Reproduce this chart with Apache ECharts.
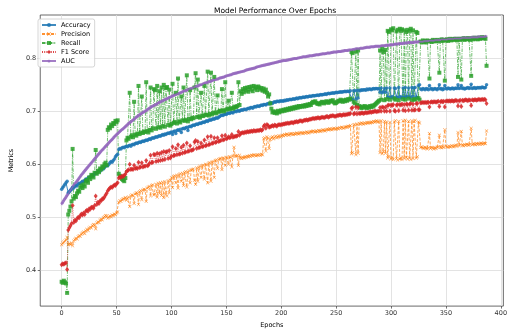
<!DOCTYPE html>
<html>
<head>
<meta charset="utf-8">
<script src="https://cdn.jsdelivr.net/npm/echarts@6/dist/echarts.min.js"></script>
<style>
  html, body { margin: 0; padding: 0; background: #fff; }
  #chart { width: 510px; height: 334px; }
</style>
</head>
<body>
<div id="chart"></div>
<script>
// Per-epoch validation metrics, epoch 0 .. 387 (one row = 20 epochs)
const accuracy = [
  .553,.556,.559,.562,.565,.568,.546,.548,.551,.553,.556,.555,.558,.560,.559,.562,.564,.563,.566,.568,
  .567,.570,.572,.571,.574,.576,.575,.578,.580,.579,.582,.584,.583,.586,.588,.587,.590,.592,.591,.594,
  .596,.598,.597,.600,.603,.605,.604,.607,.610,.614,.617,.619,.628,.630,.629,.631,.632,.631,.633,.634,
  .633,.635,.636,.634,.637,.638,.637,.639,.640,.639,.641,.642,.641,.643,.644,.643,.645,.646,.645,.647,
  .648,.647,.649,.650,.649,.651,.652,.651,.653,.654,.653,.655,.656,.655,.657,.656,.658,.659,.658,.660,
  .661,.656,.662,.663,.658,.664,.665,.664,.666,.660,.667,.668,.667,.669,.670,.664,.671,.672,.671,.673,
  .674,.673,.675,.676,.675,.677,.678,.677,.679,.680,.679,.681,.682,.681,.683,.684,.683,.685,.686,.685,
  .687,.688,.687,.689,.690,.692,.693,.692,.694,.695,.694,.696,.697,.696,.698,.698,.697,.699,.700,.699,
  .701,.701,.700,.702,.703,.702,.704,.704,.703,.705,.706,.705,.707,.707,.706,.708,.709,.708,.710,.710,
  .709,.711,.712,.711,.713,.713,.712,.714,.715,.714,.716,.716,.715,.717,.718,.717,.719,.719,.718,.720,
  .719,.720,.719,.721,.720,.722,.721,.722,.723,.722,.723,.724,.723,.724,.725,.724,.725,.726,.725,.726,
  .727,.726,.727,.728,.727,.728,.729,.728,.729,.730,.729,.730,.730,.731,.730,.731,.732,.731,.732,.732,
  .733,.732,.733,.734,.733,.734,.734,.735,.734,.735,.736,.735,.736,.736,.737,.736,.737,.737,.738,.737,
  .738,.738,.737,.739,.724,.722,.739,.739,.723,.740,.725,.740,.739,.741,.740,.741,.741,.740,.742,.741,
  .742,.742,.741,.742,.743,.742,.743,.743,.742,.743,.736,.744,.735,.737,.743,.736,.744,.727,.726,.744,
  .726,.728,.725,.744,.743,.727,.726,.745,.728,.725,.727,.744,.726,.745,.727,.728,.744,.726,.727,.745,
  .728,.744,.745,.727,.726,.749,.750,.742,.741,.743,.742,.741,.743,.742,.741,.749,.742,.743,.741,.742,
  .743,.742,.741,.743,.750,.742,.743,.741,.742,.749,.743,.742,.744,.743,.742,.743,.744,.742,.743,.744,
  .743,.750,.743,.744,.749,.743,.744,.742,.743,.744,.745,.743,.744,.751,.743,.744,.745,.743,.744,.745,
  .744,.745,.744,.746,.745,.744,.745,.750
];

const precision = [
  .448,.451,.453,.455,.457,.462,.448,.450,.449,.451,.446,.455,.458,.460,.459,.463,.465,.464,.468,.470,
  .472,.469,.474,.477,.475,.479,.481,.480,.484,.486,.485,.478,.489,.491,.490,.494,.496,.495,.499,.501,
  .503,.502,.498,.500,.502,.501,.504,.503,.506,.505,.508,.510,.528,.531,.530,.533,.535,.534,.537,.532,
  .536,.538,.520,.540,.542,.541,.526,.544,.546,.545,.524,.548,.550,.533,.551,.553,.552,.530,.555,.557,
  .558,.540,.560,.561,.542,.544,.562,.538,.564,.545,.565,.541,.566,.537,.567,.543,.540,.569,.546,.570,
  .575,.556,.577,.578,.565,.579,.555,.580,.582,.568,.583,.560,.584,.586,.557,.585,.588,.565,.589,.590,
  .591,.570,.562,.593,.568,.594,.596,.575,.597,.598,.572,.600,.599,.565,.602,.603,.568,.604,.605,.575,
  .607,.608,.592,.609,.610,.611,.590,.612,.611,.598,.613,.612,.600,.614,.613,.595,.615,.632,.616,.615,
  .616,.598,.617,.612,.611,.613,.612,.614,.613,.615,.614,.616,.615,.617,.616,.618,.617,.616,.618,.617,
  .618,.617,.619,.618,.648,.650,.625,.652,.649,.630,.647,.650,.652,.648,.651,.653,.650,.652,.654,.651,
  .653,.655,.654,.656,.655,.657,.656,.655,.657,.658,.657,.656,.658,.657,.659,.658,.657,.659,.660,.659,
  .658,.660,.659,.661,.660,.659,.661,.662,.661,.663,.662,.661,.663,.662,.664,.663,.662,.664,.665,.664,
  .663,.665,.666,.665,.667,.666,.665,.667,.668,.667,.666,.668,.667,.669,.668,.670,.669,.668,.670,.671,
  .670,.672,.671,.673,.620,.622,.674,.675,.618,.676,.621,.677,.676,.678,.677,.676,.678,.677,.679,.678,
  .679,.678,.680,.679,.681,.680,.681,.682,.680,.681,.622,.682,.620,.624,.681,.621,.680,.612,.615,.679,
  .610,.613,.609,.680,.682,.611,.608,.681,.610,.612,.609,.682,.611,.683,.613,.610,.681,.612,.609,.682,
  .611,.681,.683,.612,.614,.680,.678,.632,.633,.631,.630,.632,.631,.629,.631,.658,.630,.632,.631,.629,
  .631,.630,.632,.633,.655,.632,.631,.633,.632,.665,.634,.633,.632,.634,.633,.635,.634,.633,.635,.636,
  .634,.660,.635,.637,.662,.636,.635,.637,.636,.638,.637,.636,.638,.668,.637,.639,.638,.637,.639,.638,
  .639,.638,.640,.638,.639,.640,.639,.663
];

const recall = [
  .378,.376,.380,.377,.375,.357,.505,.512,.520,.530,.629,.535,.540,.538,.545,.550,.548,.556,.560,.555,
  .562,.558,.568,.570,.565,.575,.572,.580,.578,.575,.584,.627,.582,.588,.585,.592,.590,.596,.594,.600,
  .603,.598,.665,.670,.668,.675,.672,.678,.676,.682,.680,.683,.582,.578,.575,.572,.570,.568,.574,.645,
  .650,.648,.735,.652,.655,.651,.718,.656,.654,.658,.748,.657,.660,.728,.659,.662,.661,.755,.663,.660,
  .665,.745,.664,.668,.742,.740,.667,.748,.670,.738,.669,.745,.672,.750,.671,.744,.746,.674,.741,.673,
  .676,.752,.678,.680,.735,.677,.762,.681,.679,.728,.683,.745,.682,.684,.768,.681,.686,.740,.685,.688,
  .687,.745,.772,.689,.760,.690,.688,.735,.692,.691,.748,.694,.693,.775,.692,.695,.773,.694,.697,.765,
  .698,.696,.730,.699,.701,.700,.742,.702,.700,.755,.703,.705,.720,.704,.706,.735,.705,.707,.709,.708,
  .710,.755,.712,.738,.733,.742,.736,.744,.739,.745,.737,.746,.741,.747,.738,.748,.743,.746,.740,.747,
  .745,.741,.744,.739,.743,.737,.741,.735,.728,.732,.715,.705,.698,.700,.697,.699,.696,.701,.698,.700,
  .702,.700,.703,.701,.704,.702,.705,.703,.706,.704,.707,.705,.708,.706,.709,.707,.710,.708,.710,.709,
  .711,.709,.712,.710,.713,.711,.714,.712,.716,.718,.717,.719,.716,.714,.715,.713,.716,.718,.717,.715,
  .717,.719,.718,.716,.718,.720,.719,.721,.717,.715,.716,.718,.720,.719,.722,.720,.718,.721,.719,.722,
  .720,.723,.722,.724,.812,.810,.718,.715,.813,.712,.815,.710,.708,.706,.709,.707,.710,.708,.706,.709,
  .707,.710,.708,.711,.709,.712,.714,.716,.718,.720,.815,.722,.818,.812,.721,.816,.723,.852,.850,.722,
  .855,.853,.857,.724,.722,.851,.854,.721,.856,.852,.855,.723,.853,.722,.850,.854,.724,.852,.856,.721,
  .853,.723,.722,.850,.848,.725,.722,.832,.830,.834,.831,.833,.830,.834,.832,.762,.833,.831,.835,.832,
  .834,.833,.835,.832,.773,.834,.836,.833,.835,.758,.834,.836,.833,.835,.837,.834,.836,.835,.837,.836,
  .834,.765,.837,.835,.760,.836,.838,.835,.837,.836,.838,.837,.835,.767,.838,.836,.839,.837,.838,.836,
  .839,.837,.838,.840,.838,.839,.837,.786
];

const f1Score = [
  .410,.412,.411,.413,.414,.401,.476,.480,.484,.488,.522,.490,.494,.493,.497,.500,.499,.503,.506,.504,
  .508,.505,.511,.513,.511,.516,.515,.519,.519,.517,.522,.540,.524,.528,.526,.531,.531,.535,.535,.538,
  .542,.545,.550,.553,.555,.557,.556,.559,.561,.560,.563,.565,.574,.576,.575,.578,.577,.579,.581,.586,
  .588,.589,.600,.590,.591,.590,.598,.592,.593,.592,.604,.594,.595,.603,.595,.596,.596,.607,.597,.598,
  .602,.617,.603,.604,.619,.618,.605,.621,.606,.620,.607,.622,.608,.624,.609,.623,.624,.611,.626,.612,
  .615,.633,.616,.617,.630,.618,.637,.619,.620,.632,.621,.636,.622,.623,.640,.624,.625,.635,.626,.627,
  .628,.642,.645,.630,.643,.631,.632,.640,.633,.634,.646,.635,.636,.652,.637,.638,.653,.639,.640,.650,
  .641,.642,.650,.643,.644,.645,.654,.646,.647,.655,.648,.649,.652,.650,.651,.656,.651,.652,.653,.653,
  .654,.662,.655,.658,.659,.660,.659,.661,.660,.662,.661,.662,.662,.663,.662,.664,.663,.663,.664,.664,
  .664,.665,.664,.665,.672,.674,.668,.675,.673,.670,.671,.672,.673,.672,.674,.673,.672,.674,.675,.674,
  .675,.675,.676,.676,.677,.677,.678,.677,.678,.679,.679,.678,.680,.680,.681,.680,.681,.682,.682,.681,
  .682,.683,.683,.684,.683,.684,.685,.685,.686,.687,.686,.687,.687,.688,.688,.687,.688,.689,.689,.688,
  .689,.690,.690,.689,.690,.691,.691,.692,.691,.690,.691,.692,.692,.693,.693,.692,.693,.694,.693,.694,
  .694,.695,.695,.696,.706,.707,.695,.696,.708,.695,.707,.696,.696,.697,.697,.696,.697,.698,.697,.698,
  .698,.699,.698,.699,.699,.700,.700,.699,.700,.700,.707,.700,.708,.707,.700,.708,.700,.711,.712,.700,
  .712,.711,.713,.701,.700,.712,.713,.701,.713,.712,.714,.702,.713,.701,.714,.713,.702,.714,.715,.702,
  .714,.702,.703,.715,.715,.703,.703,.716,.716,.717,.716,.717,.716,.717,.717,.708,.717,.718,.717,.718,
  .718,.717,.718,.719,.709,.718,.719,.718,.719,.708,.719,.720,.719,.720,.719,.720,.720,.719,.720,.721,
  .720,.710,.720,.721,.709,.721,.720,.721,.722,.721,.720,.722,.721,.711,.722,.721,.722,.722,.721,.722,
  .723,.722,.722,.723,.722,.723,.722,.715
];

const auc = [
  .525,.528,.532,.535,.538,.541,.545,.548,.551,.554,.557,.560,.563,.566,.568,.571,.574,.577,.580,.582,
  .585,.588,.590,.593,.595,.598,.600,.603,.605,.608,.610,.613,.615,.618,.620,.622,.625,.627,.629,.632,
  .634,.636,.638,.641,.643,.645,.647,.649,.652,.654,.656,.658,.660,.662,.664,.666,.667,.669,.671,.673,
  .675,.677,.679,.680,.682,.684,.685,.687,.689,.690,.692,.693,.695,.696,.698,.699,.700,.702,.703,.705,
  .706,.707,.709,.710,.711,.712,.713,.714,.716,.717,.718,.719,.720,.721,.722,.723,.724,.725,.726,.727,
  .728,.729,.730,.731,.732,.733,.733,.734,.735,.736,.737,.738,.739,.739,.740,.741,.742,.743,.743,.744,
  .745,.746,.747,.747,.748,.749,.750,.750,.751,.752,.753,.754,.754,.755,.756,.756,.757,.758,.759,.759,
  .760,.761,.761,.762,.763,.763,.764,.765,.765,.766,.767,.768,.768,.769,.769,.770,.771,.771,.772,.772,
  .773,.774,.774,.775,.775,.776,.776,.777,.778,.778,.779,.780,.780,.781,.781,.782,.782,.783,.784,.784,
  .785,.785,.786,.786,.787,.787,.788,.788,.789,.789,.790,.790,.791,.791,.792,.792,.793,.793,.794,.794,
  .795,.795,.796,.796,.796,.797,.797,.798,.798,.798,.799,.799,.800,.800,.800,.801,.801,.802,.802,.802,
  .803,.803,.803,.804,.804,.804,.805,.805,.805,.806,.806,.806,.807,.807,.807,.808,.808,.808,.809,.809,
  .809,.809,.810,.810,.810,.811,.811,.811,.812,.812,.812,.812,.813,.813,.813,.814,.814,.814,.815,.815,
  .815,.815,.816,.816,.816,.817,.817,.817,.818,.818,.818,.818,.819,.819,.819,.820,.820,.820,.821,.821,
  .821,.821,.822,.822,.822,.822,.823,.823,.823,.823,.823,.824,.824,.824,.824,.825,.825,.825,.825,.826,
  .826,.826,.826,.827,.827,.827,.827,.828,.828,.828,.828,.828,.829,.829,.829,.829,.830,.830,.830,.830,
  .830,.831,.831,.831,.831,.832,.832,.832,.832,.832,.833,.833,.833,.833,.833,.834,.834,.834,.834,.834,
  .835,.835,.835,.835,.835,.835,.836,.836,.836,.836,.836,.836,.837,.837,.837,.837,.837,.837,.838,.838,
  .838,.838,.838,.838,.838,.839,.839,.839,.839,.839,.839,.839,.839,.840,.840,.840,.840,.840,.840,.840,
  .841,.841,.841,.841,.841,.841,.841,.842
];

const seriesNames = ['Accuracy', 'Precision', 'Recall', 'F1 Score', 'AUC'];
const xTicks = [0, 50, 100, 150, 200, 250, 300, 350, 400];
const yTicks = [0.4, 0.5, 0.6, 0.7, 0.8];

const FONT = 'DejaVu Sans';
const toPoints = arr => arr.map((v, i) => [i, v]);

// marker shapes
const xMarker = 'path://M1,0L5,4L9,0L10,1L6,5L10,9L9,10L5,6L1,10L0,9L4,5L0,1Z';
const starMarker = 'path://M5,0L6.2,3.6L10,3.6L6.9,5.8L8.1,9.5L5,7.2L1.9,9.5L3.1,5.8L0,3.6L3.8,3.6Z';

const chart = echarts.init(document.getElementById('chart'), null, { renderer: 'canvas' });

const lineSeries = (name, data, color, symbol, symbolSize, lineType, lineWidth) => ({
  name, type: 'line', data: toPoints(data), color,
  symbol, symbolSize, showSymbol: true, showAllSymbol: true,
  animation: false, silent: true,
  lineStyle: { width: lineWidth, type: lineType, color, opacity: 0.85 },
  itemStyle: { color, opacity: 0.85 },
  emphasis: { disabled: true }
});

chart.setOption({
  animation: false,
  backgroundColor: '#fff',
  title: {
    text: 'Model Performance Over Epochs',
    left: 270, top: 2, textAlign: 'center',
    textStyle: { fontFamily: FONT, fontSize: 7.5, fontWeight: 'normal', color: '#000' }
  },
  grid: {
    left: 35.5, right: 5.5, top: 15, bottom: 21,
    show: true, borderColor: '#444', borderWidth: 0.8, backgroundColor: 'transparent'
  },
  legend: {
    orient: 'vertical', left: 38, top: 19,
    data: seriesNames,
    backgroundColor: 'rgba(255,255,255,0.85)',
    borderColor: '#cccccc', borderWidth: 0.8, borderRadius: 2,
    padding: [2, 4, 2, 3], itemGap: 1,
    itemWidth: 14, itemHeight: 5,
    textStyle: { fontFamily: FONT, fontSize: 6.5, color: '#000', lineHeight: 8 }
  },
  xAxis: {
    type: 'value', min: -19.5, max: 402.3, splitNumber: 8,
    name: 'Epochs', nameLocation: 'middle', nameGap: 13,
    nameTextStyle: { fontFamily: FONT, fontSize: 6.5, color: '#000' },
    axisLine: { show: false, onZero: false },
    axisTick: { show: true, customValues: xTicks, length: 2.5, lineStyle: { color: '#333', width: 0.7 } },
    axisLabel: { customValues: xTicks, fontFamily: FONT, fontSize: 6.5, color: '#333', margin: 4,
      formatter: v => (v % 50 === 0 ? String(v) : '') },
    splitLine: { show: true, lineStyle: { color: '#dcdcdc', width: 0.8 } }
  },
  yAxis: {
    type: 'value', min: 0.332, max: 0.882, splitNumber: 5,
    name: 'Metrics', nameLocation: 'middle', nameGap: 22,
    nameTextStyle: { fontFamily: FONT, fontSize: 6.5, color: '#000' },
    axisLine: { show: false, onZero: false },
    axisTick: { show: true, customValues: yTicks, length: 2.5, lineStyle: { color: '#333', width: 0.7 } },
    axisLabel: { customValues: yTicks, fontFamily: FONT, fontSize: 6.5, color: '#333', margin: 4,
      formatter: v => (Math.abs(v * 10 - Math.round(v * 10)) < 1e-6 ? v.toFixed(1) : '') },
    splitLine: { show: true, lineStyle: { color: '#dcdcdc', width: 0.8 } }
  },
  series: [
    lineSeries('Accuracy', accuracy, '#1f77b4', 'circle', 3.5, 'solid', 1),
    lineSeries('Precision', precision, '#ff7f0e', xMarker, 3.5, [3, 1.5], 0.8),
    lineSeries('Recall', recall, '#2ca02c', 'rect', 4, [3.5, 1.2, 1, 1.2], 0.8),
    lineSeries('F1 Score', f1Score, '#d62728', 'diamond', [4, 5], [1, 1.2], 0.8),
    lineSeries('AUC', auc, '#9467bd', starMarker, 3, 'solid', 3)
  ]
});
</script>
</body>
</html>
